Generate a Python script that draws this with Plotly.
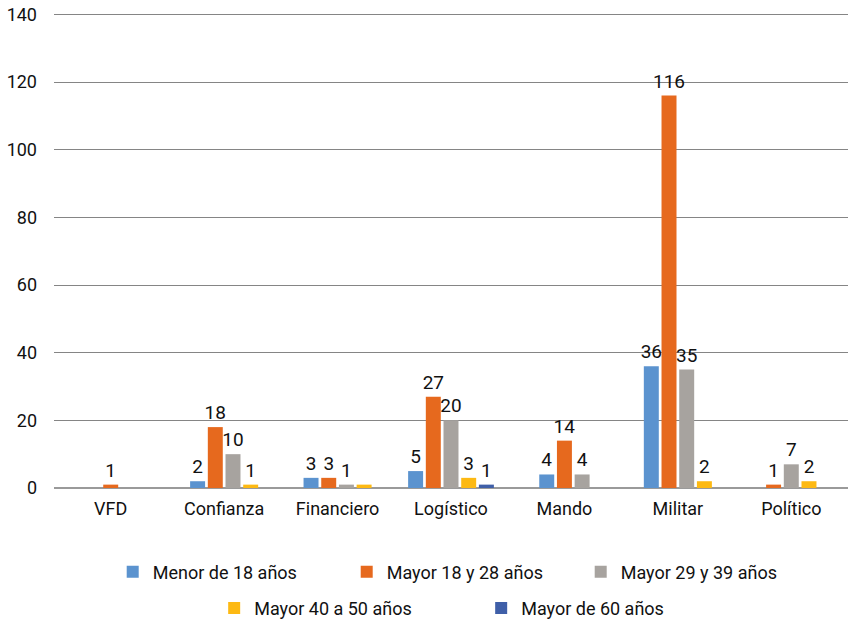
import plotly.graph_objects as go

categories = ["VFD", "Confianza", "Financiero", "Logístico", "Mando", "Militar", "Político"]
series_names = ["Menor de 18 años", "Mayor 18 y 28 años", "Mayor 29 y 39 años",
                "Mayor 40 a 50 años", "Mayor de 60 años"]
menor_18 = [None, 2, 3, 5, 4, 36, None]
mayor_18_28 = [1, 18, 3, 27, 14, 116, 1]
mayor_29_39 = [None, 10, 1, 20, 4, 35, 7]
mayor_40_50 = [None, 1, 1, 3, None, 2, 2]
mayor_60 = [None, None, None, 1, None, None, None]
hidden_labels = [("Mayor 40 a 50 años", "Financiero")]

colors = ["#5B93CF", "#E6691E", "#A7A39F", "#FDB913", "#3F5FA8"]
y_ticks = [0, 20, 40, 60, 80, 100, 120, 140]

series_values = [menor_18, mayor_18_28, mayor_29_39, mayor_40_50, mayor_60]

FONT = "Roboto, Arial, sans-serif"
bar_w = 0.132
pitch = 0.156

fig = go.Figure()
for si, (name, vals) in enumerate(zip(series_names, series_values)):
    offsets, texts = [], []
    for ci, cat in enumerate(categories):
        present = [k for k in range(len(series_values)) if series_values[k][ci] is not None]
        if vals[ci] is None:
            offsets.append(0)
            texts.append("")
            continue
        n = len(present)
        k = present.index(si)
        offsets.append((k - (n - 1) / 2) * pitch - bar_w / 2)
        texts.append("" if (name, cat) in hidden_labels else str(vals[ci]))
    fig.add_trace(go.Bar(
        x=categories, y=vals, name=name,
        marker=dict(color=colors[si], line=dict(width=0)),
        width=bar_w, offset=offsets,
        text=texts, textposition="outside", constraintext="none",
        cliponaxis=False,
        textfont=dict(size=19, color="#111111", family=FONT),
        legend="legend" if si < 3 else "legend2",
    ))

fig.update_layout(
    width=848, height=622,
    margin=dict(l=54, r=0, t=13, b=134, autoexpand=False),
    paper_bgcolor="white", plot_bgcolor="white",
    barmode="overlay",
    font=dict(family=FONT, size=18, color="#111111"),
    xaxis=dict(
        type="category", showgrid=False, showline=False, ticks="",
        tickfont=dict(size=18, family=FONT, color="#111111"),
        zeroline=False, automargin=False, ticklabelstandoff=8,
    ),
    yaxis=dict(
        range=[0, 140.4], tickvals=y_ticks, showgrid=True,
        gridcolor="#858585", gridwidth=1, zeroline=True,
        zerolinecolor="#9a9a9a", zerolinewidth=2, showline=False,
        ticks="", ticklabelstandoff=16, automargin=False,
        ticklabeloverflow="allow",
        tickfont=dict(size=18, family=FONT, color="#111111"),
    ),
    legend=dict(
        orientation="h", x=0.516, xanchor="center", y=-0.177, yanchor="middle",
        font=dict(size=18, family=FONT, color="#111111"),
        entrywidth=189, entrywidthmode="pixels", itemwidth=30,
        bgcolor="rgba(0,0,0,0)",
    ),
    legend2=dict(
        orientation="h", x=0.538, xanchor="center", y=-0.253, yanchor="middle",
        font=dict(size=18, family=FONT, color="#111111"),
        entrywidth=222, entrywidthmode="pixels", itemwidth=30,
        bgcolor="rgba(0,0,0,0)",
    ),
    showlegend=True,
)

fig.write_html("out.html", config={"displayModeBar": False},
               post_script="document.body.style.margin='0';")
